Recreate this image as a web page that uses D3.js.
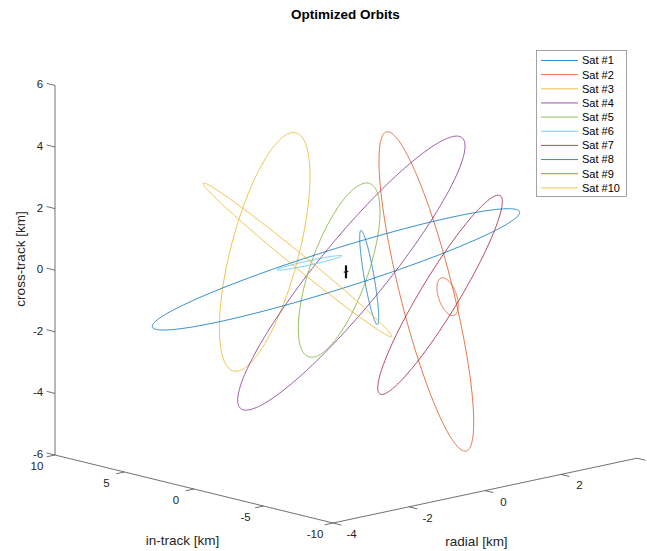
<!DOCTYPE html>
<html><head><meta charset="utf-8">
<script src="https://cdn.jsdelivr.net/npm/d3@7"></script>
<style>
html,body{margin:0;padding:0;background:#fff;}
svg{display:block;font-family:"Liberation Sans",Arial,Helvetica,sans-serif;}
</style>
</head><body>
<svg id="chart" width="647" height="551"></svg>
<script>
// ---------- data ----------
const satNames = ["Sat #1","Sat #2","Sat #3","Sat #4","Sat #5","Sat #6","Sat #7","Sat #8","Sat #9","Sat #10"];
const satColors = ["#0072BD","#D95319","#EDB120","#7E2F8E","#77AC30","#4DBEEE","#A2142F","#0072BD","#D95319","#EDB120"];
// closed relative orbits: radial = A sin t, in-track = y0 + 2A cos t, cross-track = B sin(t + phi)
const radialAmp     = [0.202, 1.006, 0.962, 2.414, 0.868, 0.685, 1.323, 3.901, 0.226, 2.001];
const inTrackCenter = [-1.669, -5.78, 5.85, -0.385, 0.493, 2.63, -6.763, 0.719, -7.31, 3.49];
const crossAmp      = [1.506, 5.07, 3.58, 4.02, 2.57, 0.231, 3.00, 1.649, 0.556, 2.670];
const crossPhaseDeg = [114.6, 112.4, 12.0, -23.75, 8.45, -78.6, -22.5, -58.25, 87.2, 151.9];
// chief marker at origin
const chiefCross = [-0.21, 0.21];
const chiefRadial = [-0.06, 0.06];
// axes
const radialDomain = [-4, 4];
const inTrackDomain = [-10, 10];
const crossDomain = [-6, 6];
const radialTicks = [-4, -2, 0, 2, 4];
const radialTickLabels = ["-4", "-2", "0", "2"];
const inTrackTicks = [10, 5, 0, -5, -10];
const crossTicks = [6, 4, 2, 0, -2, -4, -6];
const titleText = "Optimized Orbits";
const xLabelText = "radial [km]";
const yLabelText = "in-track [km]";
const zLabelText = "cross-track [km]";

// ---------- projection ----------
const svg = d3.select("#chart");
const corner = [333, 523];           // (-4,-10,-6)
const EX = [304, -64.8], EY = [-278, -68], EZ = [0, -369.6];
const xS = d3.scaleLinear().domain(radialDomain).range([0, 1]);
const yS = d3.scaleLinear().domain(inTrackDomain).range([0, 1]);
const zS = d3.scaleLinear().domain(crossDomain).range([0, 1]);
function proj(x, y, z) {
  const a = xS(x), b = yS(y), c = zS(z);
  return [corner[0] + a*EX[0] + b*EY[0] + c*EZ[0], corner[1] + a*EX[1] + b*EY[1] + c*EZ[1]];
}
const line = d3.line();
const axisColor = "#4d4d4d", textColor = "#262626";

// axes lines
const g = svg.append("g");
g.append("path").attr("d", line([proj(-4,-10,-6), proj(4,-10,-6)])).attr("stroke", axisColor).attr("stroke-width", 0.8).attr("fill","none");
g.append("path").attr("d", line([proj(-4,-10,-6), proj(-4,10,-6)])).attr("stroke", axisColor).attr("stroke-width", 0.8).attr("fill","none");
g.append("path").attr("d", line([proj(-4,10,-6), proj(-4,10,6)])).attr("stroke", axisColor).attr("stroke-width", 0.8).attr("fill","none");

// radial ticks
radialTicks.forEach(v => {
  g.append("path").attr("d", line([proj(v,-10,-6), proj(v,-10.6,-6)])).attr("stroke", axisColor).attr("stroke-width", 0.8);
});
radialTickLabels.forEach(s => {
  const p = proj(+s, -10, -6);
  g.append("text").attr("x", p[0] + 18.5).attr("y", p[1] + 11).attr("dy", "0.35em")
    .attr("text-anchor", "middle").attr("font-size", 11.5).attr("fill", textColor).text(s);
});
// in-track ticks
inTrackTicks.forEach(v => {
  g.append("path").attr("d", line([proj(-4,v,-6), proj(-4.22,v,-6)])).attr("stroke", axisColor).attr("stroke-width", 0.8);
  const p = proj(-4, v, -6);
  g.append("text").attr("x", p[0] - 18).attr("y", p[1] + 11).attr("dy", "0.35em")
    .attr("text-anchor", "middle").attr("font-size", 11.5).attr("fill", textColor).text(v);
});
// cross-track ticks
crossTicks.forEach(v => {
  const p0 = proj(-4, 10, v), p1 = proj(-4, 10.6, v);
  g.append("path").attr("d", line([p0, p1])).attr("stroke", axisColor).attr("stroke-width", 0.8);
  g.append("text").attr("x", p1[0] - 3.5).attr("y", p1[1] + 1).attr("dy", "0.35em")
    .attr("text-anchor", "end").attr("font-size", 11.5).attr("fill", textColor).text(v);
});

// axis labels
g.append("text").attr("x", 476.5).attr("y", 541).attr("dy","0.35em").attr("text-anchor","middle")
  .attr("font-size", 13.5).attr("fill", textColor).text(xLabelText);
g.append("text").attr("x", 182.5).attr("y", 540).attr("dy","0.35em").attr("text-anchor","middle")
  .attr("font-size", 13.5).attr("fill", textColor).text(yLabelText);
g.append("text").attr("transform", "translate(20,259) rotate(-90)").attr("dy","0.35em").attr("text-anchor","middle")
  .attr("font-size", 13.5).attr("fill", textColor).text(zLabelText);

// title
svg.append("text").attr("x", 345.5).attr("y", 19).attr("text-anchor","middle")
  .attr("font-size", 13.5).attr("font-weight","bold").attr("fill", "#000").text(titleText);

// orbits
const tSamples = d3.range(0, 361, 1).map(d => d * Math.PI / 180);
const orbits = svg.append("g");
satNames.forEach((name, i) => {
  const A = radialAmp[i], y0 = inTrackCenter[i], B = crossAmp[i], ph = crossPhaseDeg[i] * Math.PI / 180;
  const pts = tSamples.map(t => proj(A*Math.sin(t), y0 + 2*A*Math.cos(t), B*Math.sin(t + ph)));
  orbits.append("path").attr("d", line(pts)).attr("fill","none")
    .attr("stroke", satColors[i]).attr("stroke-width", 1).attr("stroke-opacity", 0.8);
});
// chief marker
orbits.append("path").attr("d", line([proj(0,0,chiefCross[0]), proj(0,0,chiefCross[1])]))
  .attr("stroke", "#111").attr("stroke-width", 2.2);
orbits.append("path").attr("d", line([proj(chiefRadial[0],0,0), proj(chiefRadial[1],0,0)]))
  .attr("stroke", "#111").attr("stroke-width", 1.2);

// legend
const lg = svg.append("g");
lg.append("rect").attr("x", 536.5).attr("y", 50.5).attr("width", 90).attr("height", 146)
  .attr("fill", "#fff").attr("stroke", "#8c8c8c").attr("stroke-width", 0.8);
satNames.forEach((name, i) => {
  const yy = 60.5 + i * 14.15;
  lg.append("line").attr("x1", 541).attr("x2", 578).attr("y1", yy).attr("y2", yy)
    .attr("stroke", satColors[i]).attr("stroke-width", 1).attr("stroke-opacity", 0.8);
  lg.append("text").attr("x", 582).attr("y", yy).attr("dy", "0.35em").attr("font-size", 11)
    .attr("fill", "#000").text(name);
});
</script>
</body></html>
